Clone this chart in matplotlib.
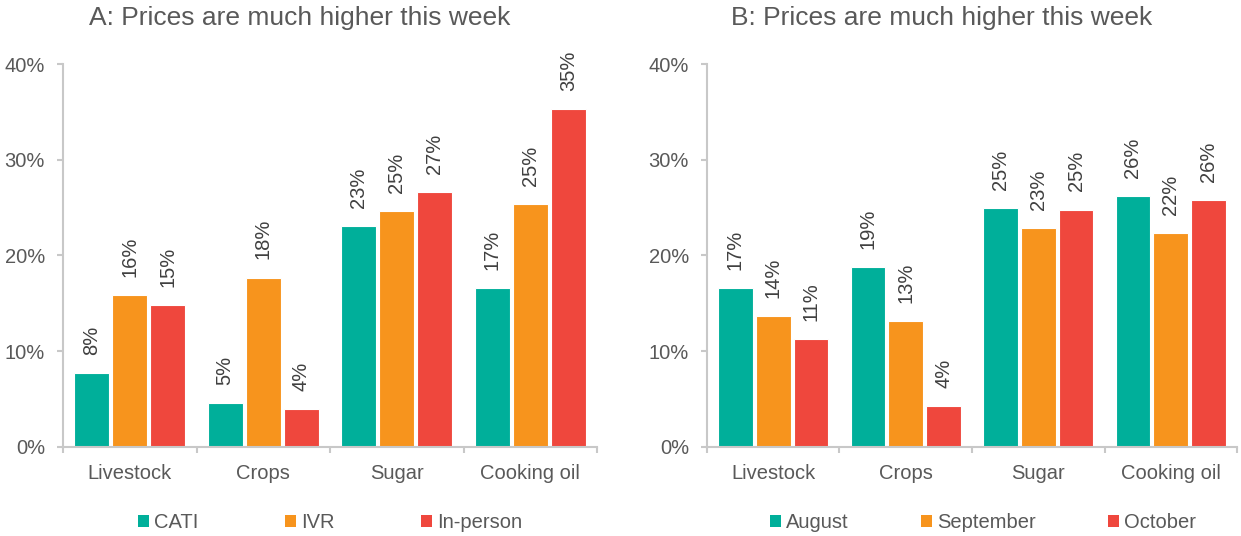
import matplotlib
matplotlib.use('Agg')
import matplotlib.pyplot as plt
from matplotlib.patches import Patch
import numpy as np

# data (percent)
categories = ['Livestock', 'Crops', 'Sugar', 'Cooking oil']

a_title = 'A: Prices are much higher this week'
a_series = ['CATI', 'IVR', 'In-person']
a_cati = [7.7, 4.6, 23.1, 16.6]
a_ivr = [15.9, 17.7, 24.6, 25.4]
a_inperson = [14.8, 4.0, 26.6, 35.3]

b_title = 'B: Prices are much higher this week'
b_series = ['August', 'September', 'October']
b_aug = [16.6, 18.8, 25.0, 26.2]
b_sep = [13.7, 13.2, 22.9, 22.3]
b_oct = [11.3, 4.3, 24.8, 25.8]

yticks = [0, 10, 20, 30, 40]

colors = ['#00AF9A', '#F7941D', '#EF473D']
txt_col = '#595959'
lbl_col = '#404040'
axis_col = '#C8C8C8'

plt.rcParams['font.family'] = ['Liberation Sans', 'DejaVu Sans']
fs = 14.5

fig = plt.figure(figsize=(12.41, 5.36), dpi=100)


def panel(rect, values, names, title, title_x, colspace, leg_x):
    ax = fig.add_axes(rect)
    x = np.arange(len(categories))
    w = 0.262
    step = 0.285
    for i, (vals, c) in enumerate(zip(values, colors)):
        xs = x + (i - 1) * step
        ax.bar(xs, vals, width=w, color=c, edgecolor='white', linewidth=0.8)
        for xi, v in zip(xs, vals):
            ax.annotate('%.0f%%' % v, (xi, v), xytext=(0, 13), textcoords='offset points',
                        rotation=90, ha='center', va='bottom', fontsize=fs, color=lbl_col)
    ax.set_xlim(-0.5, len(categories) - 0.5)
    ax.set_ylim(0, 40)
    ax.set_yticks(yticks)
    ax.set_yticklabels(['%d%%' % t for t in yticks])
    ax.set_xticks(x)
    ax.set_xticklabels(categories)
    ax.set_xticks(np.arange(len(categories) + 1) - 0.5, minor=True)
    ax.tick_params(axis='x', which='major', length=0, pad=12, labelsize=fs, labelcolor=txt_col)
    ax.tick_params(axis='x', which='minor', length=4, width=1.5, color=axis_col)
    ax.tick_params(axis='y', length=4, width=1.5, color=axis_col, pad=9, labelsize=fs, labelcolor=txt_col)
    for s in ['top', 'right']:
        ax.spines[s].set_visible(False)
    for s in ['left', 'bottom']:
        ax.spines[s].set_color(axis_col)
        ax.spines[s].set_linewidth(1.5)
    handles = [Patch(facecolor=c, edgecolor='none') for c in colors]
    ax.legend(handles, names, loc='center', bbox_to_anchor=(leg_x, -0.198), ncol=3, frameon=False,
              fontsize=fs, labelcolor=txt_col, handlelength=0.55, handleheight=0.55,
              handletextpad=0.25, columnspacing=colspace)
    fig.text(title_x, 1 - 18 / 536., title, ha='center', va='center', fontsize=19, color=txt_col)
    return ax


panel([63 / 1241., 1 - 447 / 536., 534 / 1241., 383 / 536.],
      [a_cati, a_ivr, a_inperson], a_series, a_title, 300 / 1241., 4.3, 0.5)
panel([707 / 1241., 1 - 447 / 536., 530 / 1241., 383 / 536.],
      [b_aug, b_sep, b_oct], b_series, b_title, 942 / 1241., 3.6, 0.521)

fig.savefig('out.png', dpi=100)
